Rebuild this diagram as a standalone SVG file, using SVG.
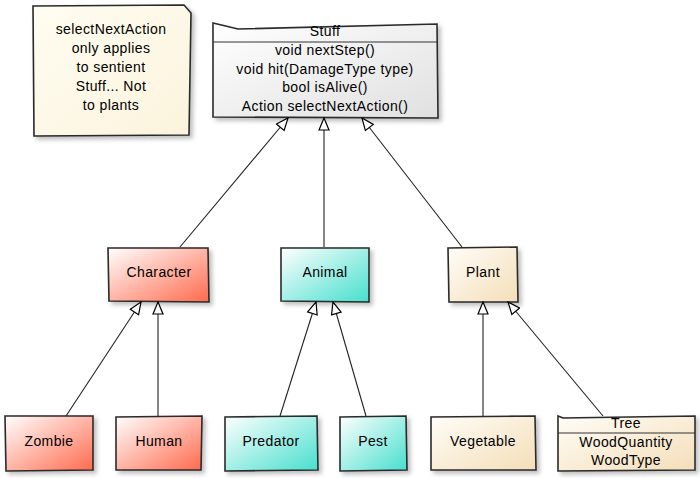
<svg xmlns="http://www.w3.org/2000/svg" width="700" height="478" viewBox="0 0 700 478">
  <defs>
    <linearGradient id="gNote" x1="0" y1="0" x2="1" y2="1"><stop offset="0" stop-color="#fffdf2"/><stop offset="1" stop-color="#fbf3dc"/></linearGradient>
    <linearGradient id="gGray" x1="0" y1="0" x2="1" y2="1"><stop offset="0" stop-color="#ffffff"/><stop offset="1" stop-color="#e0e0e0"/></linearGradient>
    <linearGradient id="gRed" x1="0" y1="0" x2="1" y2="1"><stop offset="0" stop-color="#ffffff"/><stop offset="1" stop-color="#ff6a4d"/></linearGradient>
    <linearGradient id="gTeal" x1="0" y1="0" x2="1" y2="1"><stop offset="0" stop-color="#ffffff"/><stop offset="1" stop-color="#46dfcd"/></linearGradient>
    <linearGradient id="gWheat" x1="0" y1="0" x2="1" y2="1"><stop offset="0" stop-color="#fffdf8"/><stop offset="1" stop-color="#f4deb8"/></linearGradient>
    <filter id="shadow" x="-10%" y="-10%" width="130%" height="140%">
      <feDropShadow dx="3" dy="3" stdDeviation="2" flood-color="#000" flood-opacity="0.25"/>
    </filter>
    <marker id="inherit" viewBox="0 0 14 12" refX="13" refY="6" markerWidth="14" markerHeight="12" markerUnits="userSpaceOnUse" orient="auto">
      <path d="M1,1 L13,6 L1,11 Z" fill="#fff" stroke="#000" stroke-width="1.2"/>
    </marker>
  </defs>
  <style>
    .box { stroke: #2a2a2a; stroke-width: 1.6; filter: url(#shadow); }
    .line { stroke: #333; stroke-width: 1.2; fill: none; }
    .edge { stroke: #222; stroke-width: 1.1; fill: none; marker-end: url(#inherit); }
    text { font-family: "Liberation Sans", "DejaVu Sans", sans-serif; font-size: 14px; letter-spacing: 0.4px; fill: #000; text-anchor: middle; }
  </style>

  <!-- note -->
  <g id="note">
    <path class="box" fill="url(#gNote)" d="M33,6 L184,5 L191,13 L189,135 L34,136 Z"/>
    <text x="111" y="34">selectNextAction</text>
    <text x="111" y="53">only applies</text>
    <text x="111" y="72">to sentient</text>
    <text x="111" y="91">Stuff... Not</text>
    <text x="111" y="110">to plants</text>
  </g>

  <!-- Stuff -->
  <g id="stuff">
    <path class="box" fill="url(#gGray)" d="M213,23 L238,29 L437,24 L438,118 L213,117 Z"/>
    <line class="line" x1="213" y1="42" x2="438" y2="42"/>
    <text x="325" y="36">Stuff</text>
    <text x="325" y="55">void nextStep()</text>
    <text x="325" y="74">void hit(DamageType type)</text>
    <text x="325" y="92">bool isAlive()</text>
    <text x="325" y="111">Action selectNextAction()</text>
  </g>

  <g id="character">
    <path class="box" fill="url(#gRed)" d="M108,248 L208,248 L209,302 L109,301 Z"/>
    <text x="159" y="277">Character</text>
  </g>
  <g id="animal">
    <path class="box" fill="url(#gTeal)" d="M281,248 L369,248 L369,302 L281,301 Z"/>
    <text x="325" y="277">Animal</text>
  </g>
  <g id="plant">
    <path class="box" fill="url(#gWheat)" d="M448,248 L517,247 L518,302 L449,302 Z"/>
    <text x="483" y="277">Plant</text>
  </g>

  <g id="zombie">
    <path class="box" fill="url(#gRed)" d="M5,416 L93,416 L93,470 L6,471 Z"/>
    <text x="49" y="446">Zombie</text>
  </g>
  <g id="human">
    <path class="box" fill="url(#gRed)" d="M116,417 L202,416 L201,470 L116,470 Z"/>
    <text x="159" y="446">Human</text>
  </g>
  <g id="predator">
    <path class="box" fill="url(#gTeal)" d="M225,417 L317,416 L318,470 L225,471 Z"/>
    <text x="271" y="446">Predator</text>
  </g>
  <g id="pest">
    <path class="box" fill="url(#gTeal)" d="M340,417 L406,416 L407,470 L340,471 Z"/>
    <text x="373" y="446">Pest</text>
  </g>
  <g id="vegetable">
    <path class="box" fill="url(#gWheat)" d="M431,417 L535,416 L536,470 L431,470 Z"/>
    <text x="483" y="446">Vegetable</text>
  </g>
  <g id="tree">
    <path class="box" fill="url(#gWheat)" d="M558,416 L563,418 L695,416 L695,470 L558,471 Z"/>
    <line class="line" x1="558" y1="433" x2="695" y2="433"/>
    <text x="626" y="428">Tree</text>
    <text x="626" y="447">WoodQuantity</text>
    <text x="626" y="465">WoodType</text>
  </g>

  <!-- generalization connectors -->
  <g id="connectors">
    <path class="edge" d="M180,247 L288,118"/>
    <path class="edge" d="M324,247 L324,118"/>
    <path class="edge" d="M462,247 L362,118"/>
    <path class="edge" d="M66,416 L141,302"/>
    <path class="edge" d="M158,416 L158,302"/>
    <path class="edge" d="M280,416 L316,302"/>
    <path class="edge" d="M366,416 L333,302"/>
    <path class="edge" d="M483,416 L483,302"/>
    <path class="edge" d="M603,416 L508,302"/>
  </g>
</svg>
